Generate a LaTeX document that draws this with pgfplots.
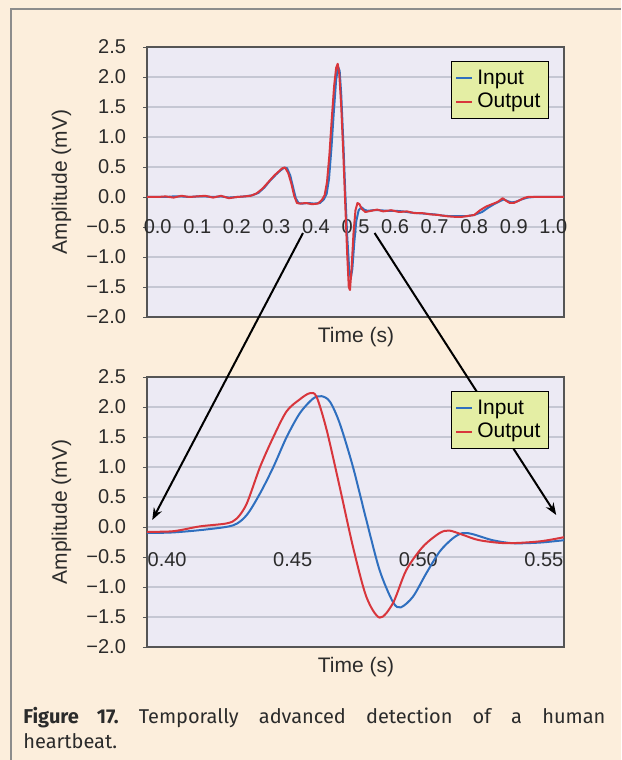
\documentclass[border=0pt]{standalone}
\usepackage{fontspec}
\setmainfont{Liberation Sans}
\newfontfamily\capfont{Fira Sans}
\usepackage{pgfplots}
\pgfplotsset{compat=1.18}
\usetikzlibrary{arrows.meta}
\definecolor{pagebg}{HTML}{FCEEDC}
\definecolor{framec}{HTML}{8C8C8C}
\definecolor{plotbg}{HTML}{ECEAF4}
\definecolor{gridc}{HTML}{C5C7D3}
\definecolor{axc}{HTML}{555555}
\definecolor{inblue}{HTML}{2F6FBF}
\definecolor{outred}{HTML}{D8363C}
\definecolor{legfill}{HTML}{E4EEA4}
\definecolor{txt}{HTML}{2B2B2B}

\pgfplotsset{
  ecg/.style={
    scale only axis, width=208.5pt, height=135pt,
    ymin=-2, ymax=2.5,
    ytick={-2,-1.5,-1,-0.5,0,0.5,1,1.5,2,2.5},
    yticklabels={−2.0,−1.5,−1.0,−0.5,0.0,0.5,1.0,1.5,2.0,2.5},
    ymajorgrids, grid style={gridc, line width=0.6pt},
    axis line style={axc, line width=0.7pt},
    axis background/.style={fill=plotbg},
    tick align=outside, major tick length=2pt, ytick pos=left,
    ytick style={axc}, xtick style={draw=none},
    tick label style={font=\fontsize{10}{12}\selectfont, text=txt},
    yticklabel style={xshift=-5pt},
    label style={font=\fontsize{10.5}{12}\selectfont, text=txt},
    ylabel={Amplitude (mV)},
    xlabel={Time (s)},
    ylabel style={at={(axis description cs:-0.205,0.5)}, anchor=center},
    xlabel style={at={(axis description cs:0.501,-0.074)}, anchor=center},
    legend style={at={(axis description cs:0.964,0.948)}, anchor=north east,
      draw=black, fill=legfill, line width=0.6pt, font=\fontsize{10.5}{11}\selectfont,
      inner xsep=2pt, inner ysep=2pt, row sep=-1pt, cells={anchor=west}},
    legend image code/.code={\draw[#1, line width=1pt] (0pt,0pt) -- (8pt,0pt);},
    every axis plot/.append style={line width=1pt, line join=round},
  }
}

\begin{document}
\begin{tikzpicture}
\fill[pagebg] (0pt,0pt) rectangle (310.5pt,380pt);
\draw[framec, line width=1pt] (5.25pt,0pt) -- (5.25pt,375.5pt) -- (310.5pt,375.5pt);

% full heartbeat
\begin{axis}[ecg, at={(73.5pt,221.5pt)}, anchor=south west,
  xmin=-0.027, xmax=1.027,
  xtick={0,0.1,0.2,0.3,0.4,0.5,0.6,0.7,0.8,0.9,1.0},
  xticklabels={0.0,0.1,0.2,0.3,0.4,0.5,0.6,0.7,0.8,0.9,1.0},
  xticklabel style={anchor=center, yshift=47pt},
]
\addplot[color=inblue] coordinates {
(-0.027,0.00) (0.00,0.00) (0.02,0.00) (0.04,0.01) (0.06,0.01) (0.08,0.00)
(0.10,0.01) (0.12,0.01) (0.14,0.00) (0.16,0.01) (0.18,-0.01) (0.20,0.00)
(0.22,0.01) (0.24,0.03) (0.255,0.07) (0.27,0.16) (0.285,0.28) (0.30,0.38)
(0.31,0.44) (0.32,0.49) (0.327,0.48) (0.335,0.36) (0.342,0.17) (0.349,-0.02)
(0.356,-0.10) (0.365,-0.11) (0.38,-0.10) (0.395,-0.11) (0.41,-0.10) (0.42,-0.04)
(0.427,0.05) (0.433,0.30) (0.439,0.80) (0.445,1.40) (0.451,1.95) (0.456,2.17)
(0.460,2.10) (0.464,1.70) (0.469,0.95) (0.474,0.10) (0.479,-0.65) (0.484,-1.20)
(0.488,-1.36) (0.492,-1.20) (0.497,-0.75) (0.502,-0.40) (0.508,-0.22) (0.515,-0.17)
(0.522,-0.21) (0.53,-0.23) (0.545,-0.22) (0.56,-0.22) (0.58,-0.23) (0.60,-0.23)
(0.62,-0.24) (0.64,-0.26) (0.66,-0.27) (0.68,-0.28) (0.70,-0.29) (0.72,-0.31)
(0.74,-0.32) (0.76,-0.32) (0.78,-0.32) (0.80,-0.30) (0.82,-0.25) (0.835,-0.18)
(0.85,-0.12) (0.865,-0.07) (0.875,-0.04) (0.885,-0.07) (0.895,-0.09) (0.905,-0.08)
(0.92,-0.04) (0.935,-0.01) (0.95,0.00) (1.00,0.00) (1.027,0.00)
};
\addplot[color=outred] coordinates {
(-0.027,0.00) (0.00,0.00) (0.02,0.01) (0.04,-0.01) (0.06,0.02) (0.08,0.00)
(0.10,0.01) (0.12,0.02) (0.14,-0.01) (0.16,0.02) (0.18,-0.02) (0.20,0.00)
(0.22,0.01) (0.235,0.02) (0.25,0.06) (0.265,0.14) (0.28,0.25) (0.295,0.36)
(0.305,0.42) (0.315,0.48) (0.322,0.49) (0.330,0.40) (0.338,0.22) (0.345,0.02)
(0.352,-0.10) (0.360,-0.11) (0.375,-0.10) (0.39,-0.12) (0.405,-0.11) (0.415,-0.05)
(0.422,0.03) (0.428,0.25) (0.434,0.70) (0.440,1.30) (0.446,1.85) (0.451,2.15)
(0.455,2.22) (0.459,2.05) (0.464,1.50) (0.469,0.75) (0.474,-0.10) (0.479,-0.95)
(0.483,-1.50) (0.486,-1.55) (0.490,-1.20) (0.495,-0.60) (0.500,-0.22) (0.505,-0.10)
(0.510,-0.12) (0.516,-0.20) (0.525,-0.25) (0.54,-0.23) (0.555,-0.21) (0.57,-0.24)
(0.59,-0.22) (0.61,-0.25) (0.63,-0.24) (0.65,-0.27) (0.67,-0.27) (0.69,-0.29)
(0.71,-0.30) (0.73,-0.32) (0.75,-0.33) (0.77,-0.33) (0.79,-0.31) (0.80,-0.30)
(0.815,-0.22) (0.83,-0.16) (0.845,-0.12) (0.86,-0.08) (0.872,-0.02) (0.88,-0.06)
(0.89,-0.10) (0.90,-0.10) (0.91,-0.07) (0.925,-0.02) (0.935,0.00) (0.96,0.00)
(1.00,0.00) (1.027,0.00)
};
\legend{Input, Output}
\end{axis}

% zoom on the QRS complex
\begin{axis}[ecg, at={(73.5pt,56.5pt)}, anchor=south west, clip=false,
  xmin=0.392, xmax=0.558,
  xtick={0.40,0.45,0.50,0.55},
  xticklabels={0.40,0.45,0.50,0.55},
  xticklabel style={anchor=center, yshift=45.5pt},
]
\addplot[color=inblue, smooth, tension=0.5] coordinates {
(0.392,-0.10) (0.4025,-0.09) (0.4158,-0.04) (0.4264,0.03) (0.4317,0.20)
(0.437,0.56) (0.4423,1.00) (0.4476,1.50) (0.4529,1.90) (0.4581,2.14)
(0.4615,2.18) (0.4648,2.09) (0.4687,1.73) (0.474,1.00) (0.4793,0.12)
(0.4846,-0.72) (0.4899,-1.25) (0.4930,-1.34) (0.4979,-1.16) (0.5032,-0.77)
(0.5085,-0.41) (0.5137,-0.19) (0.5177,-0.10) (0.5217,-0.12) (0.5296,-0.22)
(0.5376,-0.27) (0.5482,-0.26) (0.558,-0.22)
};
\addplot[color=outred, smooth, tension=0.5] coordinates {
(0.392,-0.08) (0.4025,-0.07) (0.413,0.01) (0.4237,0.06) (0.4277,0.14)
(0.4317,0.39) (0.437,1.00) (0.4423,1.50) (0.4476,1.93) (0.4529,2.13)
(0.4568,2.23) (0.4595,2.17) (0.4635,1.62) (0.4687,0.67) (0.474,-0.33)
(0.4793,-1.16) (0.4846,-1.51) (0.4899,-1.27) (0.4952,-0.72) (0.5018,-0.33)
(0.5085,-0.10) (0.5124,-0.06) (0.5177,-0.13) (0.5243,-0.22) (0.535,-0.27)
(0.5482,-0.24) (0.558,-0.17)
};
\legend{Input, Output}
% arrows from the 0.4 and 0.5 region of the upper plot to the edges of this one
\draw[black, line width=1pt, -{Stealth[length=6pt, width=4.5pt]}] (axis cs:0.4541,4.9) -- (axis cs:0.3941,0.117);
\draw[black, line width=1pt, -{Stealth[length=6pt, width=4.5pt]}] (axis cs:0.4826,4.9) -- (axis cs:0.5549,0.20);
\end{axis}

\node[anchor=north west, inner sep=0pt, text width=291pt, align=justify,
  font=\capfont\fontsize{10}{12.5}\selectfont, text=txt]
  at (11.5pt,26.5pt) {\frenchspacing\textbf{Figure 17.} Temporally advanced detection of a human\linebreak heartbeat.};

\pgfresetboundingbox
\path (0pt,0pt) rectangle (310.5pt,380pt);
\end{tikzpicture}
\end{document}
